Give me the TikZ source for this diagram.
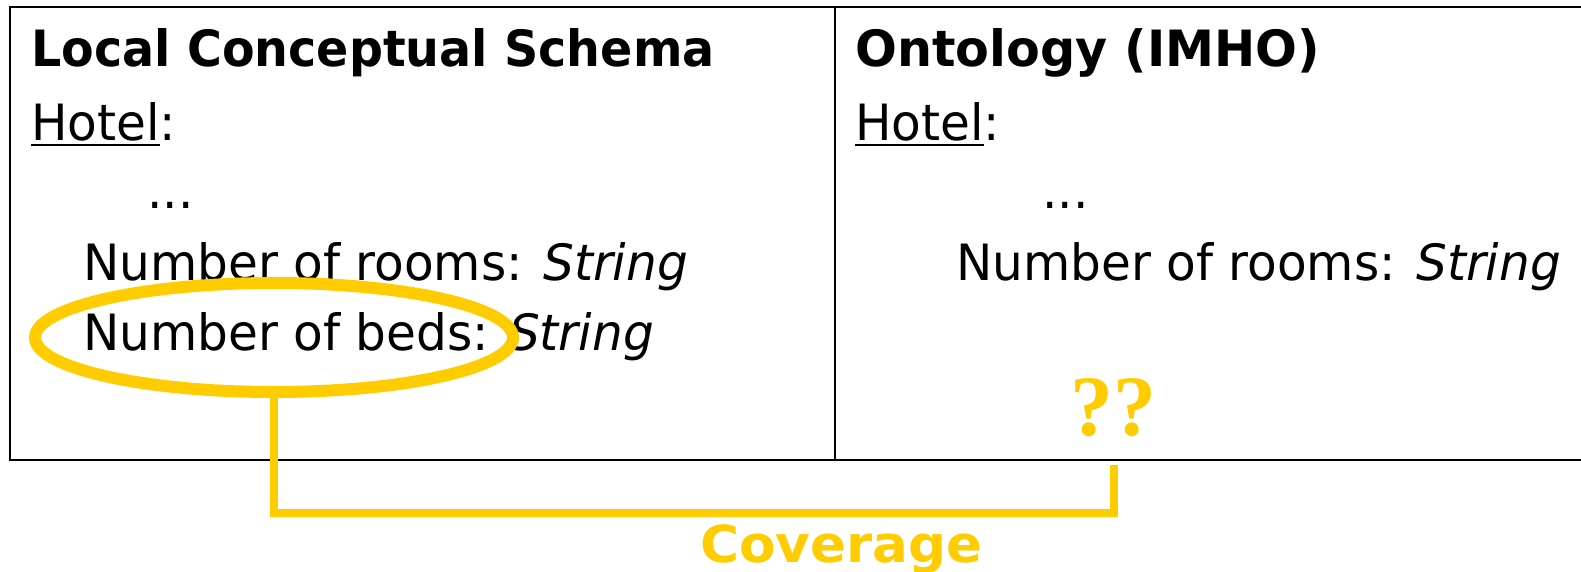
\documentclass[tikz,border=0pt]{standalone}
\usepackage{fontspec}
\setmainfont[FakeStretch=0.97]{DejaVu Sans}
\newfontfamily\qfont{Liberation Serif}
\usetikzlibrary{shapes.geometric}
\definecolor{gold}{HTML}{FFCC00}
% underlined word with a rule as thick as the frame
\newcommand{\ulword}[1]{\setbox0\hbox{#1}\rlap{\rule[-5pt]{\wd0}{2.4pt}}\box0}
\begin{document}
\begin{tikzpicture}[x=1pt,y=-1pt,
  frame/.style={line width=2.5pt,black},
  body/.style={anchor=base west,inner sep=0pt,font=\fontsize{50}{60}\selectfont},
  head/.style={body,font=\fontsize{50}{60}\selectfont\bfseries},
  ring/.style={draw=gold,line width=12pt,ellipse,inner sep=0pt},
  link/.style={draw=gold,line width=7.5pt,line join=miter},
]
\useasboundingbox (0,0) rectangle (1581,572);

% table frame: open on the right
\draw[frame] (1581,7) -- (10,7) -- (10,460) -- (1581,460);
\draw[frame] (835,7) -- (835,460);

% left column
\node[head] (lhead) at (31,67) {\scalebox{0.98}[1]{Local Conceptual Schema}};
\node[body] (lhotel) at (31,141) {\ulword{Hotel}:};
\node[body] (ldots) at (147,208) {...};
\node[body] (lrooms) at (83,280) {Number of rooms: \textit{String}};
\node[body] (lbeds) at (83,350) {Number of beds: \textit{String}};

% right column
\node[head] (rhead) at (855,67) {\scalebox{1.015}[1]{Ontology (IMHO)}};
\node[body] (rhotel) at (855,141) {\ulword{Hotel}:};
\node[body] (rdots) at (1042,208) {...};
\node[body] (rrooms) at (956,280) {Number of rooms: \textit{String}};

% highlighted attribute and missing counterpart
\node[ring,minimum width=478pt,minimum height=109pt] (bedsring) at (274,337.5) {};
\node[anchor=base west,inner sep=0pt,text=gold,font=\fontsize{86}{86}\qfont\bfseries] (qq) at (1070,435) {??};
\coordinate (qqfoot) at (1114,465);

% coverage link
\draw[link] (bedsring.south) -- (bedsring.south |- 0,513) -| (qqfoot);
\node[anchor=base west,inner sep=0pt,text=gold,font=\fontsize{51}{60}\selectfont\bfseries] (cov) at (700,562) {\scalebox{1.075}[1]{Coverage}};
\end{tikzpicture}
\end{document}
